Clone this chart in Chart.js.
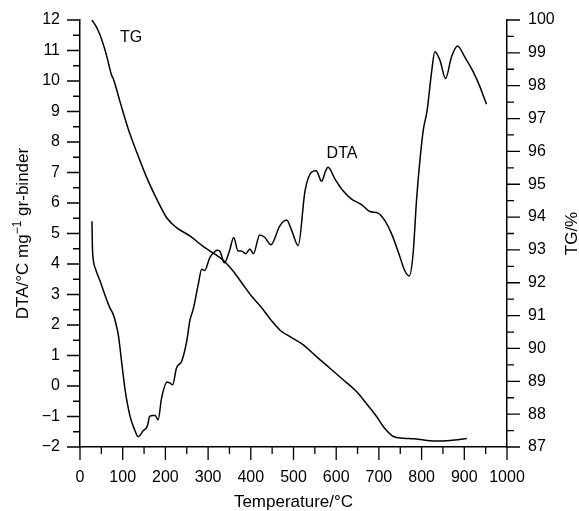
<!DOCTYPE html>
<html>
<head>
<meta charset="utf-8">
<script src="https://cdn.jsdelivr.net/npm/chart.js@4/dist/chart.umd.min.js"></script>
<style>
  html, body { margin: 0; padding: 0; background: #fff; }
  #wrap { width: 579px; height: 511px; }
</style>
</head>
<body>
<div id="wrap"><canvas id="chart"></canvas></div>
<script>
// DTA curve (left axis)
const dtaTemp = [28, 29, 31, 36, 47, 58, 70, 78, 84, 90, 97, 105, 117, 128, 136, 148, 158, 163, 170, 176, 183, 191, 204, 210, 217, 226, 238, 250, 257, 265, 277, 285, 292, 304, 316, 322, 328, 338, 350, 360, 370, 378, 388, 398, 406, 421, 433, 447, 468, 484, 496, 511, 527, 542, 553, 566, 574, 581, 597, 616, 636, 660, 679, 698, 714, 730, 746, 761, 771, 780, 788, 796, 804, 813, 823, 831, 843, 856, 870, 884, 901, 921, 937, 945, 952];
const dtaValue = [5.4, 4.6, 4.15, 3.85, 3.44, 3.0, 2.56, 2.34, 2.05, 1.65, 0.85, -0.07, -0.98, -1.44, -1.66, -1.47, -1.3, -1.0, -0.97, -0.97, -1.11, -0.4, 0.13, 0.1, 0.04, 0.59, 0.81, 1.47, 2.13, 2.51, 3.33, 3.83, 3.79, 4.21, 4.41, 4.45, 4.41, 4.04, 4.43, 4.87, 4.43, 4.43, 4.34, 4.49, 4.34, 4.95, 4.87, 4.63, 5.25, 5.44, 5.09, 4.6, 6.4, 7.01, 7.06, 6.71, 7.01, 7.17, 6.79, 6.4, 6.13, 5.94, 5.72, 5.67, 5.42, 4.98, 4.37, 3.77, 3.61, 4.32, 6.07, 7.39, 8.4, 9.04, 10.25, 10.96, 10.68, 10.08, 10.79, 11.15, 10.79, 10.3, 9.8, 9.5, 9.24];

// TG curve (right axis)
const tgTemp = [28, 38, 47, 62, 74, 78, 94, 113, 133, 156, 180, 203, 226, 258, 289, 316, 336, 359, 382, 402, 425, 447, 470, 492, 523, 554, 586, 617, 648, 671, 695, 714, 734, 757, 781, 812, 836, 867, 906];
const tgValue = [100.0, 99.8, 99.54, 98.93, 98.32, 98.21, 97.5, 96.68, 95.97, 95.21, 94.54, 93.98, 93.68, 93.42, 93.1, 92.87, 92.68, 92.35, 91.94, 91.59, 91.25, 90.87, 90.54, 90.36, 90.11, 89.75, 89.39, 89.04, 88.68, 88.32, 87.92, 87.56, 87.32, 87.27, 87.25, 87.2, 87.18, 87.2, 87.26];

const xTicks = [0, 100, 200, 300, 400, 500, 600, 700, 800, 900, 1000];
const dtaTicks = [-2, -1, 0, 1, 2, 3, 4, 5, 6, 7, 8, 9, 10, 11, 12];
const tgTicks = [87, 88, 89, 90, 91, 92, 93, 94, 95, 96, 97, 98, 99, 100];

const FONT = '"Liberation Sans", Arial, Helvetica, sans-serif';

function toPoints(xs, ys) {
  return xs.map((x, i) => ({ x: x, y: ys[i] }));
}

function minusSign(v) {
  return String(v).replace('-', '\u2212');
}

// tick marks (major + minor), axis titles and curve labels
const axisDecor = {
  id: 'axisDecor',
  afterDraw(chart) {
    const { ctx, chartArea } = chart;
    const x = chart.scales.x, y = chart.scales.y, y2 = chart.scales.y2;
    ctx.save();
    ctx.strokeStyle = '#000';
    ctx.lineWidth = 1.3;
    ctx.beginPath();
    for (let i = 0; i < xTicks.length; i++) {
      const px = x.getPixelForValue(xTicks[i]);
      ctx.moveTo(px, chartArea.bottom);
      ctx.lineTo(px, chartArea.bottom + 13);
      if (i < xTicks.length - 1) {
        const mx = x.getPixelForValue((xTicks[i] + xTicks[i + 1]) / 2);
        ctx.moveTo(mx, chartArea.bottom);
        ctx.lineTo(mx, chartArea.bottom + 7);
      }
    }
    for (let i = 0; i < dtaTicks.length; i++) {
      const py = y.getPixelForValue(dtaTicks[i]);
      ctx.moveTo(chartArea.left, py);
      ctx.lineTo(chartArea.left - 13, py);
      if (i < dtaTicks.length - 1) {
        const my = y.getPixelForValue(dtaTicks[i] + 0.5);
        ctx.moveTo(chartArea.left, my);
        ctx.lineTo(chartArea.left - 7, my);
      }
    }
    for (let i = 0; i < tgTicks.length; i++) {
      const py = y2.getPixelForValue(tgTicks[i]);
      ctx.moveTo(chartArea.right, py);
      ctx.lineTo(chartArea.right + 13, py);
      if (i < tgTicks.length - 1) {
        const my = y2.getPixelForValue(tgTicks[i] + 0.5);
        ctx.moveTo(chartArea.right, my);
        ctx.lineTo(chartArea.right + 7, my);
      }
    }
    ctx.stroke();

    ctx.fillStyle = '#000';
    const midY = (chartArea.top + chartArea.bottom) / 2;

    // x title
    ctx.font = '17px ' + FONT;
    ctx.textAlign = 'center';
    ctx.textBaseline = 'alphabetic';
    ctx.fillText('Temperature/\u00b0C', (chartArea.left + chartArea.right) / 2, 507);

    // left title with superscript
    const partA = 'DTA/\u00b0C mg', sup = '\u22121', partB = ' gr-binder';
    ctx.font = '17px ' + FONT;
    const wA = ctx.measureText(partA).width, wB = ctx.measureText(partB).width;
    ctx.font = '12px ' + FONT;
    const wS = ctx.measureText(sup).width;
    const total = wA + wS + wB;
    ctx.save();
    ctx.translate(28, midY);
    ctx.rotate(-Math.PI / 2);
    ctx.textAlign = 'left';
    let cx = -total / 2;
    ctx.font = '17px ' + FONT;
    ctx.fillText(partA, cx, 0);
    cx += wA;
    ctx.font = '12px ' + FONT;
    ctx.fillText(sup, cx, -7);
    cx += wS;
    ctx.font = '17px ' + FONT;
    ctx.fillText(partB, cx, 0);
    ctx.restore();

    // right title
    ctx.save();
    ctx.translate(577, midY);
    ctx.rotate(-Math.PI / 2);
    ctx.textAlign = 'center';
    ctx.font = '17px ' + FONT;
    ctx.fillText('TG/%', 0, 0);
    ctx.restore();

    // curve labels
    ctx.font = '16px ' + FONT;
    ctx.textAlign = 'center';
    ctx.textBaseline = 'middle';
    ctx.fillText('TG', 131, 38);
    ctx.fillText('DTA', 342, 154);
    ctx.restore();
  }
};

const tickFont = { family: FONT, size: 16 };

new Chart(document.getElementById('chart'), {
  type: 'line',
  data: {
    datasets: [
      {
        label: 'DTA',
        data: toPoints(dtaTemp, dtaValue),
        yAxisID: 'y',
        borderColor: '#000',
        borderWidth: 1.5,
        pointRadius: 0,
        cubicInterpolationMode: 'monotone',
        fill: false
      },
      {
        label: 'TG',
        data: toPoints(tgTemp, tgValue),
        yAxisID: 'y2',
        borderColor: '#000',
        borderWidth: 1.5,
        pointRadius: 0,
        cubicInterpolationMode: 'monotone',
        fill: false
      }
    ]
  },
  options: {
    responsive: true,
    maintainAspectRatio: false,
    animation: false,
    layout: { padding: { top: 20, left: 0, right: 0, bottom: 0 } },
    plugins: {
      legend: { display: false },
      tooltip: { enabled: false }
    },
    scales: {
      x: {
        type: 'linear',
        min: 0,
        max: 1000,
        grid: { display: false, drawTicks: false },
        border: { display: true, color: '#000', width: 1.5 },
        ticks: {
          stepSize: 100,
          autoSkip: false,
          color: '#000',
          font: tickFont,
          padding: 21,
          maxRotation: 0,
          callback: (v) => String(v)
        },
        afterFit(scale) { scale.height = 64; }
      },
      y: {
        type: 'linear',
        position: 'left',
        min: -2,
        max: 12,
        grid: { display: false, drawTicks: false },
        border: { display: true, color: '#000', width: 1.5 },
        ticks: {
          stepSize: 1,
          autoSkip: false,
          color: '#000',
          font: tickFont,
          padding: 20,
          callback: (v) => minusSign(v)
        },
        afterFit(scale) {
          scale.width = 80;
          scale.paddingTop = 0;
          scale.paddingBottom = 0;
        }
      },
      y2: {
        type: 'linear',
        position: 'right',
        min: 87,
        max: 100,
        grid: { display: false, drawTicks: false },
        border: { display: true, color: '#000', width: 1.5 },
        ticks: {
          stepSize: 1,
          autoSkip: false,
          color: '#000',
          font: tickFont,
          padding: 21
        },
        afterFit(scale) {
          scale.width = 72;
          scale.paddingTop = 0;
          scale.paddingBottom = 0;
        }
      }
    }
  },
  plugins: [axisDecor]
});
</script>
</body>
</html>
